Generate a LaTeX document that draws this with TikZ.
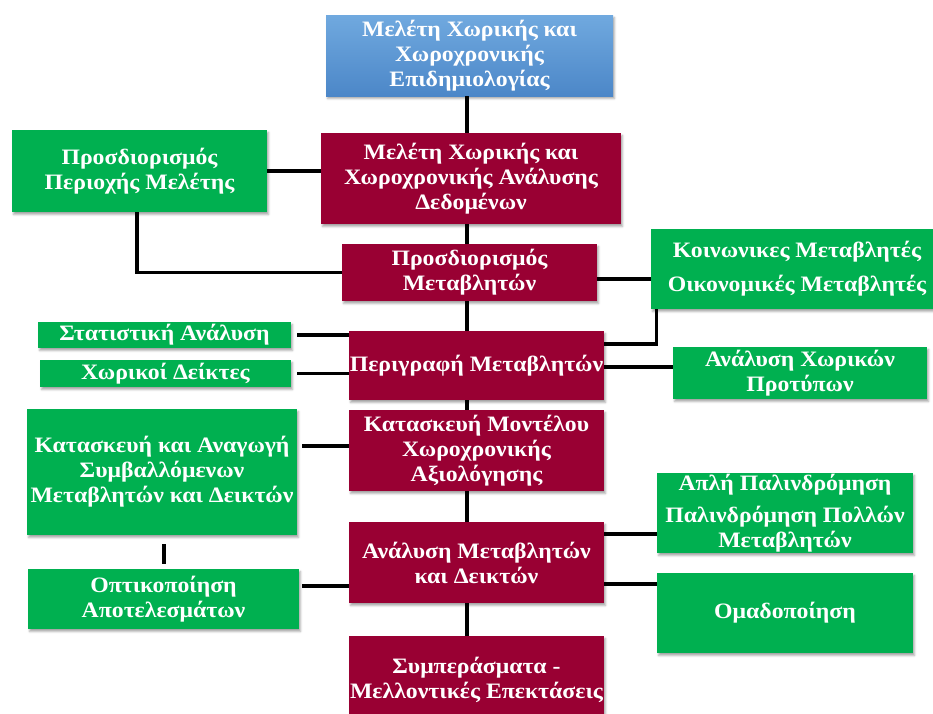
\documentclass[tikz,border=0pt]{standalone}
\usepackage{fontspec}
\setmainfont[FakeStretch=1.08]{Liberation Serif}
\usetikzlibrary{shadows.blur,calc}
\definecolor{maroonbox}{HTML}{990033}
\definecolor{greenbox}{HTML}{00B050}
\definecolor{bluetop}{HTML}{70A9DF}
\definecolor{bluebot}{HTML}{4C87C8}
\tikzset{
  box/.style={inner sep=0pt, align=center, text=white,
    font=\bfseries\fontsize{22}{25}\selectfont,
    blur shadow={shadow xshift=1.5pt, shadow yshift=-2.5pt, shadow opacity=35, shadow blur steps=4, shadow blur radius=2pt}},
  mbox/.style={box, fill=maroonbox},
  gbox/.style={box, fill=greenbox},
  bbox/.style={box, top color=bluetop, bottom color=bluebot},
  link/.style={draw=black, line width=3.2pt},
}
\begin{document}
\begin{tikzpicture}[x=1pt,y=-1pt]
\useasboundingbox (0,0) rectangle (933,713);
\clip (0,0) rectangle (933,713);
% main spine
\node[bbox, minimum width=287pt, minimum height=81pt] (top) at (469.5,55.5) {Μελέτη Χωρικής και\\Χωροχρονικής\\Επιδημιολογίας};
\node[mbox, minimum width=300pt, minimum height=91pt] (m1) at (471,178.5) {Μελέτη Χωρικής και\\Χωροχρονικής Ανάλυσης\\Δεδομένων};
\node[mbox, minimum width=255pt, minimum height=57pt] (m2) at (469.5,272.5) {Προσδιορισμός\\Μεταβλητών};
\node[mbox, minimum width=255pt, minimum height=69pt] (m3) at (476.5,365.5) {Περιγραφή Μεταβλητών};
\node[mbox, minimum width=255pt, minimum height=81pt] (m4) at (476.5,450.5) {Κατασκευή Μοντέλου\\Χωροχρονικής\\Αξιολόγησης};
\node[mbox, minimum width=255pt, minimum height=81pt] (m5) at (476.5,562.5) {Ανάλυση Μεταβλητών\\και Δεικτών};
\node[mbox, minimum width=255pt, minimum height=88pt] (m6) at (476.5,680) {Συμπεράσματα -\\Μελλοντικές Επεκτάσεις};
% left boxes
\node[gbox, minimum width=255pt, minimum height=82pt] (g1) at (139.5,171) {Προσδιορισμός\\Περιοχής Μελέτης};
\node[gbox, minimum width=253pt, minimum height=26pt] (gsa) at (164.5,335) {Στατιστική Ανάλυση};
\node[gbox, minimum width=251pt, minimum height=27pt] (gxd) at (165.5,373.5) {Χωρικοί Δείκτες};
\node[gbox, minimum width=270pt, minimum height=126pt] (gka) at (162,472) {Κατασκευή και Αναγωγή\\Συμβαλλόμενων\\Μεταβλητών και Δεικτών};
\node[gbox, minimum width=271pt, minimum height=60pt] (gop) at (163.5,599) {Οπτικοποίηση\\Αποτελεσμάτων};
% right boxes
\node[gbox, minimum width=292pt, minimum height=80pt] (gko) at (797,269) {Κοινωνικες Μεταβλητές\\[9pt]Οικονομικές Μεταβλητές};
\node[gbox, minimum width=254pt, minimum height=52pt] (gax) at (800,373) {Ανάλυση Χωρικών\\Προτύπων};
\node[gbox, minimum width=256pt, minimum height=80pt] (gap) at (785,513) {Απλή Παλινδρόμηση\\[7pt]Παλινδρόμηση Πολλών\\Μεταβλητών};
\node[gbox, minimum width=256pt, minimum height=80pt] (gom) at (785,613) {Ομαδοποίηση};
% connector anchor points
\coordinate (spine) at (467,0);
\coordinate (g1s) at ($(g1.south)+(-2.5,0)$);
\coordinate (m2r) at ($(m2.east)+(0,6.5)$);
\coordinate (m3ru) at ($(m3.east)+(0,-21.5)$);
\coordinate (gkob) at ($(gko.south west)+(6,0)$);
\coordinate (m3r) at ($(m3.east)+(0,1.5)$);
\coordinate (gkar) at ($(gka.east)+(0,-26)$);
\coordinate (gkab) at ($(gka.south)+(2,0)$);
\coordinate (gopt) at ($(gop.north)+(2,0)$);
\coordinate (gopr) at ($(gop.east)+(0,-13)$);
\coordinate (m5ru) at ($(m5.east)+(0,-28.5)$);
\coordinate (m5rd) at ($(m5.east)+(0,21.5)$);
% connectors
\draw[link] (spine |- top.south) -- (spine |- m1.north);
\draw[link] (spine |- m1.south) -- (spine |- m2.north);
\draw[link] (spine |- m2.south) -- (spine |- m3.north);
\draw[link] (spine |- m3.south) -- (spine |- m4.north);
\draw[link] (spine |- m4.south) -- (spine |- m5.north);
\draw[link] (spine |- m5.south) -- (spine |- m6.north);
\draw[link] (g1.east) -- (g1.east -| m1.west);
\draw[link] (g1s) |- (m2.west);
\draw[link] (m2r) -- (m2r -| gko.west);
\draw[link] (m3ru) -| (gkob);
\draw[link] (m3r) -- (m3r -| gax.west);
\draw[link, shorten <=6pt] (gsa.east) -- (gsa.east -| m3.west);
\draw[link, shorten <=6pt] (gxd.east) -- (gxd.east -| m3.west);
\draw[link, shorten <=5pt] (gkar) -- (gkar -| m4.west);
\draw[link, shorten <=9pt, shorten >=5pt] (gkab) -- (gkab |- gopt);
\draw[link, shorten <=3pt] (gopr) -- (gopr -| m5.west);
\draw[link] (m5ru) -- (m5ru -| gap.west);
\draw[link] (m5rd) -- (m5rd -| gom.west);
\end{tikzpicture}
\end{document}
